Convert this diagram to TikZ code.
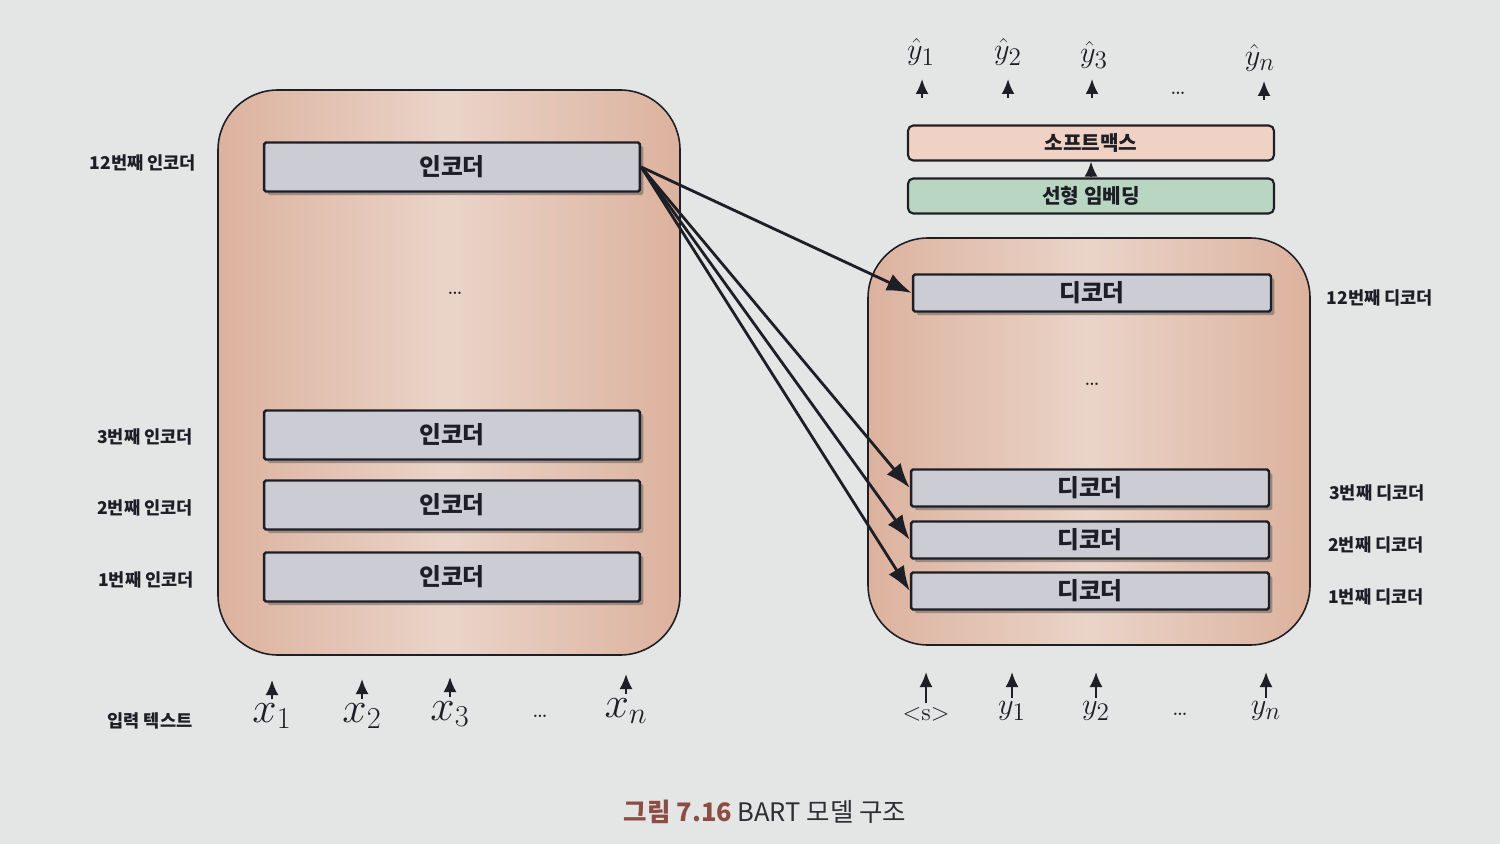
\documentclass[tikz,border=0pt]{standalone}
\usepackage{fontspec}
\newfontfamily\kr{Noto Sans CJK KR}
\usepackage{xcolor}
\definecolor{paper}{RGB}{228,230,230}
\definecolor{stackdark}{RGB}{220,178,158}
\definecolor{stacklight}{RGB}{234,212,200}
\definecolor{boxgrey}{RGB}{204,205,212}
\definecolor{boxline}{RGB}{30,30,38}
\definecolor{softpink}{RGB}{240,210,196}
\definecolor{embgreen}{RGB}{184,214,194}
\definecolor{capbrown}{RGB}{140,78,68}
\definecolor{capgrey}{RGB}{45,45,50}
\usetikzlibrary{shadows,arrows.meta,positioning}

\tikzset{
  stack/.style={draw=boxline, line width=0.9pt, rounded corners=1.2cm,
    left color=stackdark, right color=stackdark, middle color=stacklight},
  encbox/.style={draw=boxline, line width=1.4pt, fill=boxgrey, rounded corners=1pt,
    minimum width=7.52cm, minimum height=0.98cm, text=boxline,
    drop shadow={shadow xshift=2pt, shadow yshift=-2pt, opacity=0.45, fill=black!70},
    font=\kr\bfseries\fontsize{13.5}{16}\selectfont},
  decbox/.style={encbox, minimum width=7.16cm, minimum height=0.74cm},
  topbox/.style={draw=boxline, line width=1.2pt, rounded corners=3pt, text=boxline,
    minimum width=7.32cm, minimum height=0.70cm,
    font=\kr\bfseries\fontsize{11.5}{13}\selectfont},
  sidelabel/.style={text=boxline, font=\kr\bfseries\fontsize{10}{12}\selectfont},
  xtoken/.style={inner sep=2pt, text=boxline, font=\fontsize{24}{28}\selectfont},
  ytoken/.style={inner sep=2pt, text=boxline, font=\fontsize{19}{22}\selectfont},
  dots/.style={text=boxline, font=\fontsize{14}{16}\selectfont},
  uparrow/.style={-{Latex[length=0.3cm, width=0.26cm]}, line width=1.2pt, draw=boxline},
  crossarrow/.style={-{Latex[length=0.5cm, width=0.36cm]}, line width=1.6pt, draw=boxline},
}

\begin{document}
\begin{tikzpicture}[x=0.02cm, y=-0.02cm]
  \useasboundingbox (0,0) rectangle (1500,844);
  \fill[paper] (0,0) rectangle (1500,844);

  % encoder stack
  \draw[stack] (218,90) rectangle (680,655);
  \node[encbox] (enc12) at (452,167) {인코더};
  \node[dots] (encdots) at (455,293) {\ldots};
  \node[encbox] (enc3) at (452,435) {인코더};
  \node[encbox] (enc2) at (452,505) {인코더};
  \node[encbox] (enc1) at (452,577) {인코더};

  \node[sidelabel] (elab12) at (143,163) {12번째 인코더};
  \node[sidelabel] (elab3) at (145,437) {3번째 인코더};
  \node[sidelabel] (elab2) at (145,508) {2번째 인코더};
  \node[sidelabel] (elab1) at (146,580) {1번째 인코더};

  % input text
  \node[sidelabel] (intext) at (150,721) {입력 텍스트};
  \node[xtoken] (x1) at (272,716) {$x_1$};
  \node[xtoken] (x2) at (362,716) {$x_2$};
  \node[xtoken] (x3) at (450,714) {$x_3$};
  \node[dots] (xdots) at (540,716) {\ldots};
  \node[xtoken] (xn) at (626,711) {$x_n$};
  \coordinate (x1end) at (272,680);
  \coordinate (x2end) at (362,679);
  \coordinate (x3end) at (450,677);
  \coordinate (xnend) at (626,674);
  \draw[uparrow] (x1) -- (x1end);
  \draw[uparrow] (x2) -- (x2end);
  \draw[uparrow] (x3) -- (x3end);
  \draw[uparrow] (xn) -- (xnend);

  % decoder stack
  \draw[stack] (868,238) rectangle (1310,645);
  \node[decbox] (dec12) at (1092,293) {디코더};
  \node[dots] (decdots) at (1092,384) {\ldots};
  \node[decbox] (dec3) at (1090,488) {디코더};
  \node[decbox] (dec2) at (1090,540) {디코더};
  \node[decbox] (dec1) at (1090,591) {디코더};

  \node[sidelabel] (dlab12) at (1380,298) {12번째 디코더};
  \node[sidelabel] (dlab3) at (1377,493) {3번째 디코더};
  \node[sidelabel] (dlab2) at (1376,545) {2번째 디코더};
  \node[sidelabel] (dlab1) at (1376,597) {1번째 디코더};

  % decoder input
  \node[ytoken] (s0) at (926,714) {\fontsize{14}{16}\selectfont <s>};
  \node[ytoken] (y1) at (1012,711) {$y_1$};
  \node[ytoken] (y2) at (1096,711) {$y_2$};
  \node[dots] (ydots) at (1180,714) {\ldots};
  \node[ytoken] (yn) at (1266,711) {$y_n$};
  \coordinate (s0end) at (926,672);
  \coordinate (y1end) at (1012,672);
  \coordinate (y2end) at (1096,672);
  \coordinate (ynend) at (1266,672);
  \draw[uparrow] (s0) -- (s0end);
  \draw[uparrow] (y1) -- (y1end);
  \draw[uparrow] (y2) -- (y2end);
  \draw[uparrow] (yn) -- (ynend);

  % output head
  \node[topbox, fill=embgreen] (emb) at (1091,196) {선형 임베딩};
  \node[topbox, fill=softpink] (smax) at (1091,143) {소프트맥스};
  \draw[uparrow] (emb) -- (smax);

  \node[ytoken] (yh1) at (921,52) {$\hat{y}_1$};
  \node[ytoken] (yh2) at (1008,52) {$\hat{y}_2$};
  \node[ytoken] (yh3) at (1094,55) {$\hat{y}_3$};
  \node[dots] (yhdots) at (1178,93) {\ldots};
  \node[ytoken] (yhn) at (1260,58) {$\hat{y}_n$};
  \coordinate (h1a) at (922,98);  \coordinate (h1b) at (922,79);
  \coordinate (h2a) at (1008,98); \coordinate (h2b) at (1008,79);
  \coordinate (h3a) at (1092,98); \coordinate (h3b) at (1092,79);
  \coordinate (hna) at (1264,100); \coordinate (hnb) at (1264,81);
  \draw[uparrow] (h1a) -- (h1b);
  \draw[uparrow] (h2a) -- (h2b);
  \draw[uparrow] (h3a) -- (h3b);
  \draw[uparrow] (hna) -- (hnb);

  % encoder output to every decoder
  \draw[crossarrow] (enc12.east) -- (dec12.west);
  \draw[crossarrow] (enc12.east) -- (dec3.west);
  \draw[crossarrow] (enc12.east) -- (dec2.west);
  \draw[crossarrow] (enc12.east) -- (dec1.west);

  % caption
  \node (caption) at (765,812) {\kr\fontsize{14.5}{17}\selectfont
    \textcolor{capbrown}{\bfseries 그림 7.16}\ \textcolor{capgrey}{BART 모델 구조}};
\end{tikzpicture}
\end{document}
